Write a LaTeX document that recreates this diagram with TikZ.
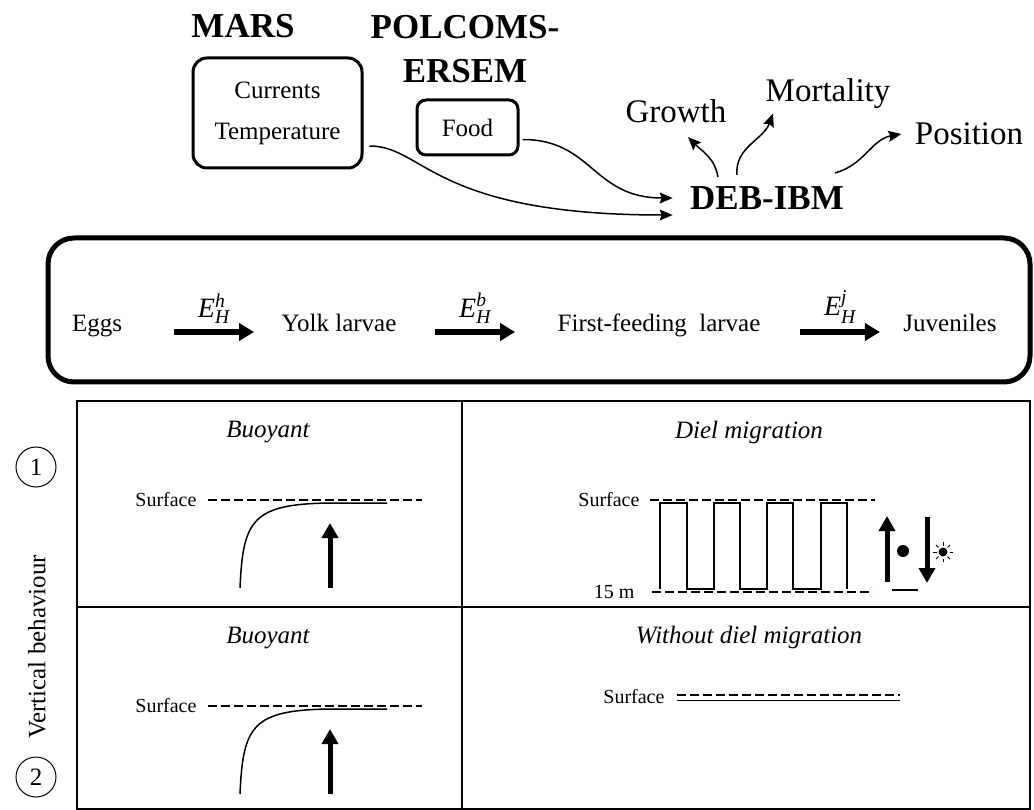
\documentclass[tikz,border=0pt]{standalone}
\usepackage{amsmath}
\usepackage{fontspec}
\setmainfont{Liberation Serif}
\usetikzlibrary{arrows.meta,positioning}

\newcommand{\eth}[1]{$\textit{E}^{\textit{#1}}_{\textit{H}}$}

\tikzset{
  model/.style={font=\fontsize{35}{44}\selectfont\bfseries, align=center},
  srcbox/.style={draw, line width=3pt, rounded corners=14pt, align=center,
    font=\fontsize{25}{41}\selectfont},
  outtxt/.style={font=\fontsize{33}{38}\selectfont},
  stagetxt/.style={font=\fontsize{25}{30}\selectfont, anchor=base},
  rate/.style={midway, above=4pt, inner sep=1pt, font=\fontsize{28}{34}\selectfont},
  celltitle/.style={font=\fontsize{25}{30}\selectfont\itshape},
  depthtxt/.style={font=\fontsize{20}{24}\selectfont, anchor=east},
  flow/.style={line width=1.5pt, -{Stealth[length=13pt,width=11pt,inset=2pt]}},
  stagearrow/.style={line width=6pt, -{Triangle[length=15pt,width=17pt]}},
  swim/.style={line width=5pt, -{Triangle[length=15pt,width=16pt]}},
  surfline/.style={line width=2pt, dash pattern=on 9pt off 4pt},
  track/.style={line width=1.5pt},
  rowno/.style={draw, circle, line width=1pt, minimum size=40pt, inner sep=0pt,
    font=\fontsize{25}{30}\selectfont}
}

\begin{document}
\begin{tikzpicture}[x=1pt, y=-1pt]
\useasboundingbox (0,0) rectangle (1034,810);

% forcing models feeding the DEB-IBM
\node[model] (marsT) at (243,26) {MARS};
\node[model] (polT) at (465,49) {POLCOMS-\\ERSEM};
\node[srcbox, minimum width=169pt, minimum height=110pt] (mars) at (277.5,113) {Currents\\Temperature};
\node[srcbox, rounded corners=9pt, minimum width=101pt, minimum height=55pt] (food) at (467.5,127.5) {Food};
\node[model] (deb) at (767,198) {DEB-IBM};
\node[outtxt] (growth) at (676,111) {Growth};
\node[outtxt] (mort) at (828,94) {Mortality};
\node[outtxt] (pos) at (969,134) {Position};

\draw[flow] ([xshift=6pt,yshift=-33pt]mars.east) .. controls +(55,0) and +(-240,0) .. ([xshift=-14pt,yshift=-17pt]deb.west);
\draw[flow] ([xshift=3pt,yshift=-12pt]food.east) .. controls +(70,0) and +(-80,0) .. ([xshift=-14pt]deb.west);
\draw[flow] ([xshift=-49pt,yshift=6pt]deb.north) to[out=100, in=-45] ([xshift=12pt,yshift=-11pt]growth.south);
\draw[flow] ([xshift=-30pt,yshift=8pt]deb.north) to[out=95, in=-110] ([xshift=-55pt,yshift=-1pt]mort.south);
\draw[flow] ([xshift=68pt,yshift=10pt]deb.north) to[out=15, in=190] ([xshift=-10pt]pos.west);

% life stages
\draw[line width=5pt, rounded corners=26pt] (48,238) rectangle (1030,382);
\node[stagetxt] (eggs) at (97,332) {Eggs};
\node[stagetxt] (yolk) at (339,332) {Yolk larvae};
\node[stagetxt] (first) at (659,332) {First-feeding~ larvae};
\node[stagetxt] (juv) at (950,332) {Juveniles};
\draw[stagearrow] ([xshift=48pt]eggs.base east) -- ([xshift=-24pt]yolk.base west) node[rate] {\eth{h}};
\draw[stagearrow] ([xshift=35pt]yolk.base east) -- ([xshift=-39pt]first.base west) node[rate] {\eth{b}};
\draw[stagearrow] ([xshift=36pt]first.base east) -- ([xshift=-20pt]juv.base west) node[rate] {\eth{j}};

% vertical behaviour table
\draw[line width=2pt] (77,401) rectangle (1030,809);
\draw[line width=2pt] (77,607) -- (1030,607);
\draw[line width=2pt] (462,401) -- (462,809);

\node[rowno] (one) at (36,467) {1};
\node[rowno] (two) at (36,777) {2};
\node[font=\fontsize{25}{30}\selectfont, rotate=90] (vert) at (37,647) {Vertical behaviour};

% buoyant eggs, both rows
\foreach \dy/\n in {0/a,206/b}{
  \begin{scope}[shift={(0,\dy)}]
    \node[celltitle] (buoy\n) at (268,432) {Buoyant};
    \node[depthtxt] (surf\n) at (200,500) {Surface};
    \draw[surfline] ([xshift=8pt]surf\n.east) -- ++(214,0);
    \draw[track] (240,588) .. controls (243,520) and (252,504) .. (330,503) -- (387,503);
    \draw[swim] (330,588) -- (330,523);
  \end{scope}
}

% diel migration
\node[celltitle] (diel) at (749,432) {Diel migration};
\node[depthtxt] (surfc) at (643,500) {Surface};
\draw[surfline] ([xshift=7pt]surfc.east) -- ++(225,0);
\node[depthtxt] (deep) at (638,592) {15 m};
\draw[surfline] ([xshift=14pt]deep.east) -- ++(221,0);
\draw[track] (660,589) |- (687,503) |- (714,589) |- (740,503) |- (767,589) |- (793,503) |- (821,589) |- (847,503) -- (847,589);
\draw[swim] (887,582) -- (887,516);
\fill (903,551) circle (6pt);
\draw[swim] (927,517) -- (927,583);
\fill (943,552) circle (4.5pt);
\foreach \a in {0,45,...,315}
  \draw[line width=1pt] (943,552) ++(\a:6.5pt) -- ++(\a:3.5pt);
\draw[line width=1.5pt] (892,590) -- (918,590);

% no migration
\node[celltitle] (nodiel) at (749,637) {Without diel migration};
\node[depthtxt] (surfd) at (668,697) {Surface};
\draw[surfline] ([xshift=9pt,yshift=2pt]surfd.east) -- ++(223,0);
\draw[line width=1pt] ([xshift=9pt,yshift=-3pt]surfd.east) -- ++(223,0);
\end{tikzpicture}
\end{document}
